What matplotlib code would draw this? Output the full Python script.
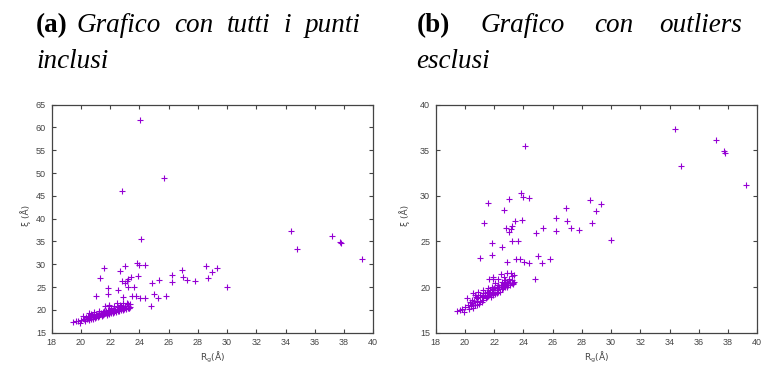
import numpy as np
import matplotlib
matplotlib.use('Agg')
import matplotlib.pyplot as plt

# Punti (Rg, xi) senza outliers
rg = [19.43, 19.78, 19.94, 20.12, 20.30, 20.39, 20.46, 20.57, 20.62, 20.69,
      20.80, 20.85, 20.98, 21.03, 21.14, 21.21, 21.26, 21.37, 21.44, 21.49,
      21.55, 21.62, 21.71, 21.76, 21.83, 21.94, 22.01, 22.06, 22.17, 22.22,
      22.28, 22.35, 22.44, 22.51, 22.58, 22.67, 22.74, 22.81, 22.90, 22.97,
      23.08, 23.20, 23.26, 23.36, 20.57, 20.69, 20.76, 21.03, 20.92, 21.26,
      21.83, 21.60, 21.37, 20.23, 20.00, 19.66, 20.46, 20.80, 21.14, 21.49,
      21.71, 21.94, 22.17, 22.40, 22.63, 22.85, 23.08, 23.31, 22.06, 22.28,
      22.51, 22.74, 20.35, 20.53, 20.92, 21.26, 21.60, 21.94, 22.28, 22.63,
      22.97,
      21.90, 21.94, 22.28, 22.50, 22.70, 22.86, 23.13, 23.24, 23.36, 23.03,
      23.24, 21.67,
      21.85, 21.03, 22.88, 23.50, 23.79, 24.04, 24.36, 24.98, 24.77, 25.80,
      25.29, 21.85, 22.56, 23.20, 23.60, 24.88, 23.01, 23.13, 22.81, 23.24,
      25.36, 27.28, 26.25, 27.82, 30.01, 28.67, 26.96, 26.25, 23.40, 23.90,
      28.98, 26.93, 22.69, 21.33, 21.60, 23.03, 23.86, 23.95, 24.40, 28.53,
      29.30, 24.14, 34.39, 37.15, 37.74, 37.79, 34.76, 39.22]
xi = [17.38, 17.56, 17.23, 18.76, 17.63, 17.92, 18.22, 17.74, 18.51, 18.03,
      18.40, 18.76, 18.14, 18.51, 18.94, 19.31, 18.58, 19.13, 18.76, 19.49,
      19.02, 19.31, 19.67, 18.94, 19.31, 19.49, 19.86, 19.24, 19.67, 20.04,
      19.49, 19.97, 20.22, 19.75, 20.11, 20.40, 19.97, 20.33, 20.55, 20.22,
      20.48, 20.77, 20.40, 20.59, 19.31, 19.13, 18.94, 19.13, 19.49, 19.67,
      19.97, 19.86, 19.38, 18.03, 17.78, 17.49, 18.58, 18.03, 18.40, 18.94,
      19.24, 19.13, 19.31, 19.49, 19.86, 20.04, 20.22, 20.33, 20.40, 20.22,
      20.59, 20.77, 18.40, 18.03, 18.94, 19.02, 19.49, 19.75, 20.04, 20.22,
      20.48,
      20.84, 21.13, 20.88, 21.46, 21.13, 21.57, 21.57, 21.24, 21.32, 20.84,
      20.47, 20.84,
      23.54, 23.14, 22.77, 23.03, 23.07, 22.70, 22.60, 23.43, 20.91, 23.03,
      22.60, 24.79, 24.38, 25.07, 25.04, 25.88, 25.99, 26.32, 26.43, 26.68,
      26.50, 26.53, 26.20, 26.24, 25.11, 27.04, 27.30, 27.63, 27.30, 27.40,
      28.32, 28.68, 28.50, 27.04, 29.27, 29.71, 30.29, 29.90, 29.78, 29.60,
      29.16, 35.47, 37.37, 36.13, 34.96, 34.75, 33.32, 31.20]

# Outliers presenti solo nel grafico (a)
rg_out = [22.83, 24.06, 25.70]
xi_out = [46.0, 61.6, 49.0]

xticks = np.arange(18, 41, 2)
yticks_a = np.arange(15, 66, 5)
yticks_b = np.arange(15, 41, 5)

fig = plt.figure(figsize=(7.62, 3.65), dpi=100)
grigio = '#444444'
viola = '#9400d3'


def stile(ax, yticks):
    ax.set_xlim(18, 40)
    ax.set_ylim(yticks[0], yticks[-1])
    ax.set_xticks(xticks)
    ax.set_yticks(yticks)
    ax.tick_params(direction='in', length=3, width=0.8, color=grigio,
                   labelcolor=grigio, labelsize=6.5, top=True, right=True, pad=4)
    for lab in ax.get_xticklabels() + ax.get_yticklabels():
        lab.set_family('Liberation Sans')
    for s in ax.spines.values():
        s.set_color(grigio)
        s.set_linewidth(0.9)


ax1 = fig.add_axes([0.0678, 0.0885, 0.4221, 0.6247])
ax1.plot(rg + rg_out, xi + xi_out, '+', color=viola, ms=5, mew=0.8)
stile(ax1, yticks_a)

ax2 = fig.add_axes([0.5718, 0.0885, 0.4220, 0.6247])
ax2.plot(rg, xi, '+', color=viola, ms=5, mew=0.8)
stile(ax2, yticks_b)

for xl, xc in [(26, 212), (405, 596)]:
    fig.text(xl / 762, 1 - 215 / 365, 'ξ (Å)', rotation=90, ha='center',
             va='center', fontsize=6.5, color=grigio, family='DejaVu Sans')
    fig.text(xc / 762, 1 - 357 / 365, r'R$_{\mathrm{g}}$(Å)', ha='center',
             va='center', fontsize=6.5, color=grigio, family='DejaVu Sans')

# Titoli (stile didascalia LaTeX, testo giustificato)
ts = 19.5
ser = 'Liberation Serif'
def parola(x, y, s, **kw):
    fig.text(x / 762, 1 - y / 365, s, fontsize=ts, family=ser, va='baseline', **kw)

parola(36, 32, '(a)', weight='bold')
parola(77, 32, 'Grafico', style='italic')
parola(174, 32, 'con', style='italic')
parola(227, 32, 'tutti', style='italic')
parola(283, 32, 'i', style='italic')
parola(305, 32, 'punti', style='italic')
parola(36, 68, 'inclusi', style='italic')

parola(417, 32, '(b)', weight='bold')
parola(481, 32, 'Grafico', style='italic')
parola(594, 32, 'con', style='italic')
parola(659, 32, 'outliers', style='italic')
parola(416, 68, 'esclusi', style='italic')

fig.savefig('out.png', dpi=100)
